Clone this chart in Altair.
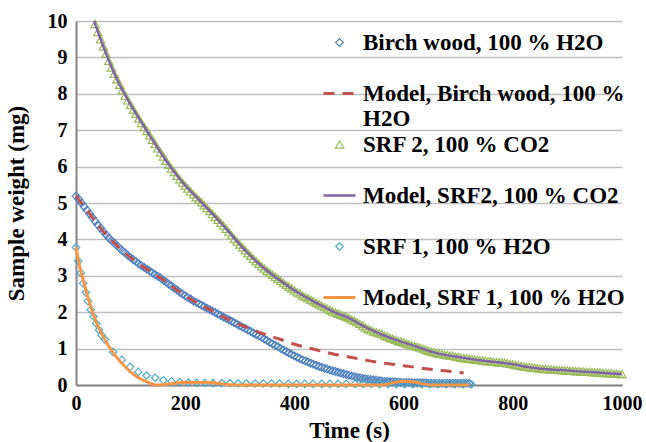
import altair as alt
import pandas as pd

SERIES = ["Birch wood, 100 % H2O", "Model, Birch wood, 100 % H2O", "SRF 2, 100 % CO2",
          "Model, SRF2, 100 % CO2", "SRF 1, 100 % H2O", "Model, SRF 1, 100 % H2O"]
COLORS = ["#4f81bd", "#c0504d", "#9bbb59", "#8064a2", "#4bacc6", "#f79646"]

# Birch wood measured (every 5 s from 0 to 720 s)
birch_t = list(range(0, 721, 5))
birch_w = [5.19, 5.10, 5.00, 4.90, 4.80, 4.70, 4.60, 4.50, 4.40, 4.31,
           4.22, 4.13, 4.04, 3.97, 3.90, 3.83, 3.76, 3.69, 3.63, 3.56,
           3.50, 3.44, 3.39, 3.33, 3.28, 3.23, 3.18, 3.13, 3.08, 3.03,
           2.99, 2.94, 2.88, 2.83, 2.77, 2.72, 2.66, 2.61, 2.55, 2.50,
           2.45, 2.40, 2.36, 2.31, 2.27, 2.23, 2.19, 2.15, 2.11, 2.07,
           2.03, 1.99, 1.95, 1.91, 1.87, 1.83, 1.79, 1.75, 1.71, 1.67,
           1.63, 1.59, 1.55, 1.51, 1.47, 1.43, 1.39, 1.35, 1.31, 1.26,
           1.22, 1.17, 1.13, 1.09, 1.05, 1.00, 0.96, 0.92, 0.88, 0.84,
           0.80, 0.76, 0.73, 0.69, 0.66, 0.63, 0.60, 0.57, 0.54, 0.51,
           0.49, 0.46, 0.44, 0.41, 0.39, 0.37, 0.35, 0.33, 0.31, 0.29,
           0.27, 0.25, 0.23, 0.21, 0.20, 0.18, 0.17, 0.16, 0.15, 0.14,
           0.13, 0.12, 0.11, 0.10, 0.10, 0.09, 0.09, 0.08, 0.08, 0.07,
           0.07, 0.07, 0.07, 0.06, 0.06, 0.06, 0.06, 0.06, 0.06, 0.05,
           0.05, 0.05, 0.05, 0.05, 0.05, 0.05, 0.05, 0.05, 0.05, 0.05,
           0.05, 0.05, 0.05, 0.05, 0.05]

# SRF 2 measured (every 5 s from 35 to 1000 s)
srf2_t = list(range(35, 1001, 5))
srf2_w = [9.92, 9.70, 9.50, 9.30, 9.10, 8.90, 8.72, 8.55, 8.40, 8.25,
          8.10, 7.95, 7.82, 7.70, 7.57, 7.45, 7.32, 7.20, 7.09, 6.98,
          6.86, 6.74, 6.62, 6.50, 6.39, 6.28, 6.16, 6.05, 5.95, 5.85,
          5.75, 5.65, 5.56, 5.48, 5.40, 5.32, 5.24, 5.16, 5.09, 5.02,
          4.94, 4.86, 4.78, 4.70, 4.62, 4.54, 4.46, 4.38, 4.29, 4.20,
          4.11, 4.02, 3.94, 3.86, 3.78, 3.70, 3.62, 3.55, 3.47, 3.40,
          3.33, 3.26, 3.20, 3.14, 3.08, 3.03, 2.97, 2.92, 2.86, 2.80,
          2.75, 2.70, 2.65, 2.60, 2.55, 2.51, 2.46, 2.42, 2.38, 2.34,
          2.30, 2.26, 2.22, 2.18, 2.14, 2.10, 2.06, 2.02, 1.99, 1.96,
          1.93, 1.90, 1.87, 1.84, 1.80, 1.76, 1.72, 1.68, 1.63, 1.58,
          1.54, 1.50, 1.47, 1.45, 1.42, 1.40, 1.36, 1.33, 1.30, 1.27,
          1.24, 1.21, 1.19, 1.17, 1.14, 1.12, 1.09, 1.07, 1.05, 1.03,
          1.00, 0.97, 0.94, 0.92, 0.90, 0.88, 0.86, 0.85, 0.83, 0.82,
          0.81, 0.80, 0.78, 0.77, 0.75, 0.74, 0.73, 0.72, 0.71, 0.70,
          0.69, 0.68, 0.67, 0.66, 0.65, 0.65, 0.64, 0.63, 0.62, 0.62,
          0.61, 0.60, 0.58, 0.57, 0.55, 0.54, 0.52, 0.51, 0.50, 0.49,
          0.48, 0.47, 0.46, 0.45, 0.44, 0.44, 0.43, 0.43, 0.42, 0.42,
          0.41, 0.41, 0.40, 0.40, 0.39, 0.39, 0.38, 0.38, 0.37, 0.37,
          0.36, 0.36, 0.35, 0.35, 0.34, 0.34, 0.33, 0.33, 0.32, 0.32,
          0.31, 0.31, 0.30, 0.30]

# SRF 1 measured
srf1_t = [0, 4, 9, 13, 18, 22, 27, 32, 37, 42, 47, 53, 68, 84, 99, 114, 129, 145, 160, 175,
          190, 206, 221, 236, 251, 267, 282, 297, 312, 328, 343, 358, 373, 389, 404, 419, 434, 450, 465, 480,
          495, 511, 526, 541, 556, 572, 587, 602, 617, 633, 648, 663, 678, 694, 709, 724]
srf1_w = [3.78, 3.41, 3.08, 2.79, 2.54, 2.30, 2.07, 1.88, 1.69, 1.51, 1.37, 1.25, 0.91, 0.69, 0.50, 0.36, 0.26, 0.20, 0.13, 0.10,
          0.08, 0.07, 0.06, 0.06, 0.05, 0.05, 0.05, 0.04, 0.04, 0.04, 0.04, 0.04, 0.04, 0.03, 0.03, 0.03, 0.03, 0.03, 0.03, 0.03,
          0.03, 0.03, 0.03, 0.03, 0.02, 0.02, 0.02, 0.02, 0.02, 0.02, 0.02, 0.02, 0.02, 0.02, 0.02, 0.02]

# Models
m_birch_t = [0, 25, 50, 75, 100, 125, 150, 175, 200, 225, 250, 275, 300, 325, 350, 375, 400, 425, 450, 475,
             500, 525, 550, 575, 600, 625, 650, 675, 700, 710]
m_birch_w = [5.2, 4.7, 4.22, 3.83, 3.5, 3.23, 2.99, 2.72, 2.45, 2.23, 2.03, 1.83, 1.66, 1.51, 1.37, 1.25, 1.12, 1.02, 0.93, 0.84,
             0.77, 0.70, 0.63, 0.58, 0.53, 0.48, 0.43, 0.39, 0.35, 0.33]
m_srf2_t = [33, 50, 75, 100, 125, 150, 175, 200, 225, 250, 275, 300, 325, 350, 375, 400, 425, 450, 475, 500,
            525, 550, 575, 600, 625, 650, 675, 700, 725, 750, 775, 800, 825, 850, 875, 900, 925, 950, 975, 1000]
m_srf2_w = [10.0, 9.3, 8.4, 7.7, 7.09, 6.5, 5.95, 5.48, 5.09, 4.7, 4.29, 3.86, 3.47, 3.14, 2.86, 2.6, 2.38, 2.18, 1.99, 1.84,
            1.63, 1.45, 1.30, 1.17, 1.05, 0.92, 0.83, 0.77, 0.71, 0.66, 0.62, 0.57, 0.50, 0.45, 0.42, 0.40, 0.37, 0.35, 0.32, 0.30]
m_srf1_t = [0, 7, 15, 25, 38, 50, 68, 87, 111, 125, 136, 148, 165, 180, 200, 230, 260, 280, 300, 400,
            500, 560, 580, 600, 620, 640, 660, 720]
m_srf1_w = [3.78, 3.25, 2.78, 2.25, 1.69, 1.33, 0.89, 0.55, 0.23, 0.12, 0.05, 0.0, 0.02, 0.05, 0.07, 0.07, 0.05, 0.01, 0.0, 0.0,
            0.0, 0.0, 0.06, 0.1, 0.08, 0.02, 0.0, 0.0]

X_TICKS = [0, 200, 400, 600, 800, 1000]
Y_TICKS = [0, 1, 2, 3, 4, 5, 6, 7, 8, 9, 10]


def frame(t, w, name):
    return pd.DataFrame({"t": t, "w": w, "series": name})


pts = pd.concat([frame(birch_t, birch_w, SERIES[0]),
                 frame(srf2_t, srf2_w, SERIES[2]),
                 frame(srf1_t, srf1_w, SERIES[4])], ignore_index=True)
lines = pd.concat([frame(m_birch_t, m_birch_w, SERIES[1]),
                   frame(m_srf2_t, m_srf2_w, SERIES[3]),
                   frame(m_srf1_t, m_srf1_w, SERIES[5])], ignore_index=True)

FONT = "Liberation Serif"
LINE_SYM = "M-2,0H2"

leg = alt.Legend(
    title=None, orient="none", legendX=252, legendY=10, padding=0,
    labelFont=FONT, labelFontSize=23, labelFontWeight="bold", labelColor="black",
    labelLimit=0, labelOffset=12, rowPadding=2, gridAlign="all", labelBaseline="middle",
    labelExpr="datum.label == 'Model, Birch wood, 100 % H2O' ? ['Model, Birch wood, 100 %', 'H2O'] : datum.label",
)

color = alt.Color("series:N", scale=alt.Scale(domain=SERIES, range=COLORS), legend=leg)
shape = alt.Shape("series:N", scale=alt.Scale(domain=SERIES,
                  range=["diamond", LINE_SYM, "triangle-up", LINE_SYM, "diamond", LINE_SYM]), legend=leg)
size = alt.Size("series:N", scale=alt.Scale(type="ordinal", domain=SERIES,
                range=[60, 256, 70, 256, 55, 256]), legend=leg)
swidth = alt.StrokeWidth("series:N", scale=alt.Scale(type="ordinal", domain=SERIES,
                         range=[1.2, 3, 1.2, 2.5, 1.2, 3]), legend=leg)
dash = alt.StrokeDash("series:N", scale=alt.Scale(domain=SERIES,
                      range=[[1, 0], [11, 8], [1, 0], [1, 0], [1, 0], [1, 0]]), legend=leg)

xenc = alt.X("t:Q", title="Time (s)", scale=alt.Scale(domain=[0, 1000], nice=False),
             axis=alt.Axis(values=X_TICKS, format="d", grid=False, ticks=False, labelPadding=8, titlePadding=6,
                           labelFlush=False, labelFont=FONT, titleFont=FONT))
yenc = alt.Y("w:Q", title="Sample weight (mg)", scale=alt.Scale(domain=[0, 10], nice=False),
             axis=alt.Axis(values=Y_TICKS, format="d", grid=True, ticks=False, labelPadding=9, titlePadding=19,
                           labelFlush=False, labelFont=FONT, titleFont=FONT))

points = alt.Chart(pts).mark_point(filled=False, opacity=1).encode(
    x=xenc, y=yenc, color=color, shape=shape, size=size, strokeWidth=swidth,
)

model = alt.Chart(lines).mark_line(interpolate="monotone").encode(
    x=xenc, y=yenc, color=color, strokeDash=dash, strokeWidth=swidth, detail="series:N",
)

chart = alt.layer(points, model).properties(
    width=546, height=364,
    autosize=alt.AutoSizeParams(type="none"),
    padding={"left": 76, "top": 21, "right": 24, "bottom": 57},
).configure_view(stroke=None).configure_axis(
    labelFont=FONT, labelFontSize=20, labelFontWeight="bold", labelColor="black",
    titleFont=FONT, titleFontSize=23, titleFontWeight="bold", titleColor="black",
    domainColor="#868686", domainWidth=2, gridColor="#bfbfbf", gridWidth=1.3,
)

chart.save("out.html", embed_options={"renderer": "svg", "actions": False})
